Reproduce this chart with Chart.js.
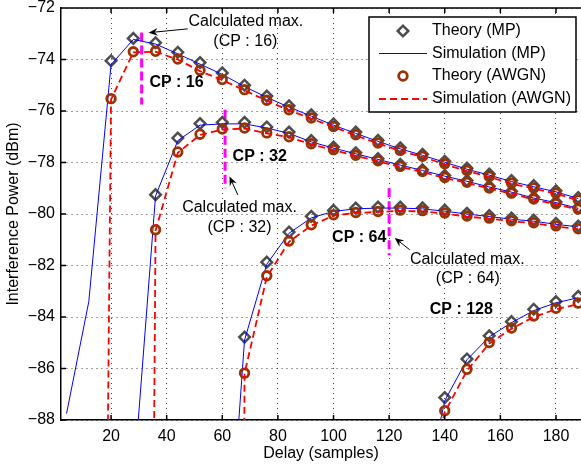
<!DOCTYPE html>
<html>
<head>
<meta charset="utf-8">
<script src="https://cdn.jsdelivr.net/npm/chart.js@4.4.1/dist/chart.umd.min.js"></script>
<style>
  html, body { margin: 0; padding: 0; background: #fff; overflow: hidden; }
</style>
</head>
<body>
<canvas id="chart" width="581" height="468"></canvas>
<script>
// axis ticks
const xTicks = [20, 40, 60, 80, 100, 120, 140, 160, 180];
const yTicks = [-88, -86, -84, -82, -80, -78, -76, -74, -72];

// simulation delays (all curves)
const simX = [4, 12, 20, 28, 36, 44, 52, 60, 68, 76, 84, 92, 100, 108, 116, 124, 132, 140, 148, 156, 164, 172, 180, 188];

// CP : 16
const thX16  = [20, 28, 36, 44, 52, 60, 68, 76, 84, 92, 100, 108, 116, 124, 132, 140, 148, 156, 164, 172, 180, 188];
const thMP16 = [-74.05, -73.18, -73.35, -73.72, -74.12, -74.52, -75.0, -75.42, -75.8, -76.15, -76.5, -76.82, -77.14, -77.43, -77.68, -77.95, -78.22, -78.45, -78.7, -78.9, -79.1, -79.36];
const thAW16 = [-75.52, -73.7, -73.68, -73.98, -74.42, -74.78, -75.17, -75.58, -75.95, -76.27, -76.6, -76.92, -77.24, -77.53, -77.76, -78.05, -78.31, -78.54, -78.8, -78.99, -79.19, -79.45];
const simMP16 = [-87.75, -83.4, -74.2, -73.22, -73.4, -73.78, -74.18, -74.58, -75.05, -75.47, -75.85, -76.2, -76.55, -76.87, -77.18, -77.47, -77.72, -77.99, -78.26, -78.49, -78.74, -78.94, -79.14, -79.4];
const simAW16 = [-170, -165, -75.55, -73.72, -73.7, -74.0, -74.45, -74.8, -75.2, -75.6, -75.97, -76.3, -76.62, -76.95, -77.26, -77.55, -77.78, -78.07, -78.33, -78.56, -78.82, -79.01, -79.21, -79.47];

// CP : 32
const thX32  = [36, 44, 52, 60, 68, 76, 84, 92, 100, 108, 116, 124, 132, 140, 148, 156, 164, 172, 180, 188];
const thMP32 = [-79.25, -77.05, -76.49, -76.44, -76.44, -76.62, -76.82, -77.15, -77.4, -77.62, -77.85, -78.07, -78.28, -78.5, -78.7, -78.92, -79.12, -79.35, -79.53, -79.75];
const thAW32 = [-80.61, -77.59, -76.9, -76.7, -76.66, -76.85, -77.0, -77.27, -77.5, -77.72, -77.93, -78.15, -78.35, -78.58, -78.77, -78.99, -79.19, -79.42, -79.6, -79.81];
const simMP32 = [-130, -118, -104, -90.5, -79.3, -77.15, -76.55, -76.5, -76.5, -76.66, -76.87, -77.2, -77.44, -77.66, -77.88, -78.1, -78.31, -78.53, -78.73, -78.95, -79.15, -79.38, -79.56, -79.78];
const simAW32 = [-215, -210, -205, -200, -80.65, -77.62, -76.93, -76.72, -76.68, -76.87, -77.02, -77.29, -77.52, -77.74, -77.95, -78.17, -78.37, -78.6, -78.79, -79.01, -79.21, -79.44, -79.62, -79.83];

// CP : 64
const thX64  = [68, 76, 84, 92, 100, 108, 116, 124, 132, 140, 148, 156, 164, 172, 180, 188];
const thMP64 = [-84.78, -81.87, -80.7, -80.09, -79.86, -79.77, -79.73, -79.73, -79.76, -79.85, -79.97, -80.06, -80.16, -80.24, -80.36, -80.47];
const thAW64 = [-86.18, -82.4, -81.05, -80.42, -80.03, -79.94, -79.9, -79.85, -79.87, -79.96, -80.08, -80.16, -80.26, -80.34, -80.46, -80.57];
const simMP64 = [-150, -145, -140, -135, -130, -122, -110, -97, -84.9, -81.95, -80.75, -80.15, -79.9, -79.8, -79.77, -79.77, -79.8, -79.89, -80.0, -80.1, -80.2, -80.28, -80.4, -80.5];
const simAW64 = [-300, -300, -300, -300, -300, -300, -300, -300, -86.2, -82.45, -81.08, -80.45, -80.06, -79.96, -79.92, -79.88, -79.9, -79.98, -80.1, -80.18, -80.28, -80.36, -80.48, -80.59];

// CP : 128
const thX128  = [140, 148, 156, 164, 172, 180, 188];
const thMP128 = [-87.13, -85.63, -84.73, -84.18, -83.7, -83.4, -83.2];
const thAW128 = [-87.64, -86.03, -84.99, -84.43, -83.96, -83.66, -83.46];
const simMP128 = [-160, -158, -155, -152, -148, -145, -142, -138, -134, -130, -126, -122, -118, -113, -108, -101, -91.3, -87.25, -85.66, -84.77, -84.22, -83.75, -83.45, -83.25];
const simAW128 = [-300, -300, -300, -300, -300, -300, -300, -300, -300, -300, -300, -300, -300, -300, -300, -300, -91.2, -87.7, -86.08, -85.03, -84.46, -84.0, -83.7, -83.5];

// calculated maxima (magenta markers)
const calcMaxX      = [31, 61, 120];
const calcMaxTop    = [-72.95, -75.95, -79.0];
const calcMaxBottom = [-75.75, -79.0, -81.6];

const legendLabels = ['Theory (MP)', 'Simulation (MP)', 'Theory (AWGN)', 'Simulation (AWGN)'];

// text notes, placed in data units
const noteTexts = [
  { text: 'Calculated max.', x: 68.5, y: -72.52, align: 'center' },
  { text: '(CP : 16)',       x: 68.3, y: -73.29, align: 'center' },
  { text: 'Calculated max.', x: 66.2, y: -79.76, align: 'center' },
  { text: '(CP : 32)',       x: 66.2, y: -80.51, align: 'center' },
  { text: 'Calculated max.', x: 148.1, y: -81.78, align: 'center' },
  { text: '(CP : 64)',       x: 148.3, y: -82.49, align: 'center' },
  { text: 'CP : 16',  x: 33.8,  y: -74.91, align: 'left',  bold: true },
  { text: 'CP : 32',  x: 63.7,  y: -77.77, align: 'left',  bold: true },
  { text: 'CP : 64',  x: 119.0, y: -80.93, align: 'right', bold: true },
  { text: 'CP : 128', x: 134.6, y: -83.72, align: 'left',  bold: true },
];
const noteArrows = [
  { x1: 47.6, y1: -72.81, x2: 33.5, y2: -72.96 },
  { x1: 65.6, y1: -79.26, x2: 62.6, y2: -78.54 },
  { x1: 127.4, y1: -81.39, x2: 122.0, y2: -80.93 },
];

const FONT = '"Liberation Sans", Arial, Helvetica, sans-serif';
const GRAY = '#4d4d4d', BROWN = '#993300', BLUE = '#0000ff', RED = '#ff0000', MAGENTA = '#ff00ff';

const pts = (xs, ys) => xs.map((x, i) => ({ x: x, y: ys[i] }));

const groups = [
  { thX: thX16,  thMP: thMP16,  thAW: thAW16,  simMP: simMP16,  simAW: simAW16 },
  { thX: thX32,  thMP: thMP32,  thAW: thAW32,  simMP: simMP32,  simAW: simAW32 },
  { thX: thX64,  thMP: thMP64,  thAW: thAW64,  simMP: simMP64,  simAW: simAW64 },
  { thX: thX128, thMP: thMP128, thAW: thAW128, simMP: simMP128, simAW: simAW128 },
];

const datasets = [];
groups.forEach(g => {
  datasets.push({
    label: legendLabels[0], data: pts(g.thX, g.thMP), showLine: false,
    pointStyle: 'rectRot', pointRadius: 5.3, pointBorderWidth: 2.5,
    pointBorderColor: GRAY, pointBackgroundColor: 'rgba(0,0,0,0)', order: 4
  });
  datasets.push({
    label: legendLabels[1], data: pts(simX, g.simMP), showLine: true,
    borderColor: BLUE, borderWidth: 1, pointRadius: 0, tension: 0, order: 3
  });
  datasets.push({
    label: legendLabels[2], data: pts(g.thX, g.thAW), showLine: false,
    pointStyle: 'circle', pointRadius: 4.3, pointBorderWidth: 2.8,
    pointBorderColor: BROWN, pointBackgroundColor: 'rgba(0,0,0,0)', order: 2
  });
  datasets.push({
    label: legendLabels[3], data: pts(simX, g.simAW), showLine: true,
    borderColor: RED, borderWidth: 1.8, borderDash: [7, 4], pointRadius: 0, tension: 0, order: 1
  });
});
calcMaxX.forEach((cx, i) => {
  datasets.push({
    label: 'calc max', data: [{ x: cx, y: calcMaxTop[i] }, { x: cx, y: calcMaxBottom[i] }],
    showLine: true, borderColor: MAGENTA, borderWidth: 3, borderDash: [9, 4], pointRadius: 0, order: 5
  });
});

// annotations: texts and arrows
const notesPlugin = {
  id: 'notes',
  afterDatasetsDraw(chart) {
    const { ctx, scales: { x, y } } = chart;
    ctx.save();
    ctx.fillStyle = '#000';
    ctx.strokeStyle = '#000';
    ctx.textBaseline = 'middle';
    noteTexts.forEach(n => {
      ctx.font = (n.bold ? 'bold ' : '') + '16px ' + FONT;
      ctx.textAlign = n.align;
      ctx.fillText(n.text, x.getPixelForValue(n.x), y.getPixelForValue(n.y));
    });
    noteArrows.forEach(a => {
      const x1 = x.getPixelForValue(a.x1), y1 = y.getPixelForValue(a.y1);
      const x2 = x.getPixelForValue(a.x2), y2 = y.getPixelForValue(a.y2);
      const ang = Math.atan2(y2 - y1, x2 - x1);
      ctx.lineWidth = 1;
      ctx.beginPath();
      ctx.moveTo(x1, y1);
      ctx.lineTo(x2 - 4 * Math.cos(ang), y2 - 4 * Math.sin(ang));
      ctx.stroke();
      ctx.beginPath();
      ctx.moveTo(x2, y2);
      ctx.lineTo(x2 - 10 * Math.cos(ang - 0.4), y2 - 10 * Math.sin(ang - 0.4));
      ctx.lineTo(x2 - 6 * Math.cos(ang), y2 - 6 * Math.sin(ang));
      ctx.lineTo(x2 - 10 * Math.cos(ang + 0.4), y2 - 10 * Math.sin(ang + 0.4));
      ctx.closePath();
      ctx.fill();
    });
    ctx.restore();
  }
};

// box top line, inward tick marks and the legend
const framePlugin = {
  id: 'frame',
  afterDraw(chart) {
    const { ctx, chartArea: a, scales: { x, y } } = chart;
    ctx.save();
    ctx.strokeStyle = '#000';
    ctx.lineWidth = 1.5;
    ctx.beginPath();
    ctx.moveTo(a.left, a.top);
    ctx.lineTo(a.right, a.top);
    xTicks.forEach(v => {
      const px = x.getPixelForValue(v);
      ctx.moveTo(px, a.bottom); ctx.lineTo(px, a.bottom - 5);
      ctx.moveTo(px, a.top); ctx.lineTo(px, a.top + 5);
    });
    yTicks.forEach(v => {
      const py = y.getPixelForValue(v);
      ctx.moveTo(a.left, py); ctx.lineTo(a.left + 5, py);
    });
    ctx.stroke();

    // legend
    const right = a.right - 5, top = a.top + 9, w = 207, h = 95;
    const left = right - w;
    ctx.fillStyle = '#fff';
    ctx.fillRect(left, top, w, h);
    ctx.lineWidth = 1.5;
    ctx.strokeRect(left, top, w, h);
    const rows = [14, 36.5, 59, 82];
    const sx = left + 34;
    ctx.font = '16px ' + FONT;
    ctx.textAlign = 'left';
    ctx.textBaseline = 'middle';
    legendLabels.forEach((lab, i) => {
      const ry = top + rows[i];
      ctx.save();
      if (i === 0) {
        ctx.strokeStyle = GRAY; ctx.lineWidth = 2.5;
        ctx.beginPath();
        ctx.moveTo(sx - 5.3, ry); ctx.lineTo(sx, ry - 5.3); ctx.lineTo(sx + 5.3, ry); ctx.lineTo(sx, ry + 5.3);
        ctx.closePath(); ctx.stroke();
      } else if (i === 2) {
        ctx.strokeStyle = BROWN; ctx.lineWidth = 2.8;
        ctx.beginPath(); ctx.arc(sx, ry, 4.3, 0, Math.PI * 2); ctx.stroke();
      } else {
        ctx.strokeStyle = i === 1 ? BLUE : RED;
        ctx.lineWidth = i === 1 ? 1 : 1.8;
        ctx.setLineDash(i === 1 ? [] : [7, 4]);
        ctx.beginPath(); ctx.moveTo(left + 10, ry); ctx.lineTo(left + 58, ry); ctx.stroke();
      }
      ctx.restore();
      ctx.fillStyle = '#000';
      ctx.fillText(lab, left + 63, ry);
    });
    ctx.restore();
  }
};

new Chart(document.getElementById('chart'), {
  type: 'scatter',
  data: { datasets: datasets },
  options: {
    responsive: false,
    devicePixelRatio: 1,
    animation: false,
    layout: { autoPadding: false, padding: { top: 8, right: 0, left: 0, bottom: 0 } },
    plugins: { legend: { display: false }, tooltip: { enabled: false } },
    scales: {
      x: {
        type: 'linear', min: 2, max: 189,
        afterBuildTicks: s => { s.ticks = xTicks.map(v => ({ value: v })); },
        afterFit: s => { s.height = 48; s.paddingLeft = 0; s.paddingRight = 0; },
        grid: { color: '#444', lineWidth: 1, drawTicks: false },
        border: { display: true, color: '#000', width: 1.5, dash: [1, 4] },
        ticks: { color: '#000', font: { family: FONT, size: 16 }, padding: 7, maxRotation: 0, autoSkip: false },
        title: { display: true, text: 'Delay (samples)', color: '#000', font: { family: FONT, size: 16 }, padding: { top: 0, bottom: 5 } }
      },
      y: {
        type: 'linear', min: -88, max: -72,
        afterBuildTicks: s => { s.ticks = yTicks.map(v => ({ value: v })); },
        afterFit: s => { s.width = 61; s.paddingTop = 0; s.paddingBottom = 0; },
        grid: { color: '#444', lineWidth: 1, drawTicks: false },
        border: { display: true, color: '#000', width: 1.5, dash: [1, 4] },
        ticks: {
          color: '#000', font: { family: FONT, size: 16 }, padding: 6, autoSkip: false,
          callback: v => String(v).replace('-', '\u2212')
        },
        title: { display: true, text: 'Interference Power (dBm)', color: '#000', font: { family: FONT, size: 16 }, padding: { top: 4, bottom: 0 } }
      }
    }
  },
  plugins: [notesPlugin, framePlugin]
});
</script>
</body>
</html>
